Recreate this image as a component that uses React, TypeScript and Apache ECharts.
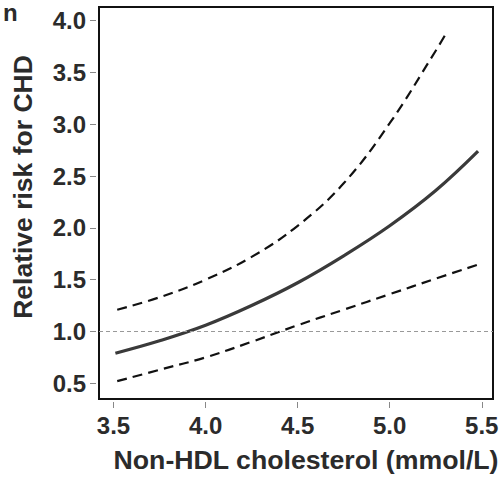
import React, { useEffect, useRef } from "react";
import * as echarts from "echarts";

const xTicks = [3.5, 4.0, 4.5, 5.0, 5.5];
const yTicks = [0.5, 1.0, 1.5, 2.0, 2.5, 3.0, 3.5, 4.0];

const xSolid = [3.51, 3.75, 4.0, 4.25, 4.5, 4.75, 5.0, 5.25, 5.48];
const rrSolid = [0.79, 0.91, 1.06, 1.25, 1.47, 1.73, 2.02, 2.36, 2.74];

const xUpper = [3.52, 3.75, 4.0, 4.25, 4.5, 4.75, 5.0, 5.25, 5.31];
const rrUpper = [1.21, 1.33, 1.5, 1.72, 2.02, 2.43, 3.01, 3.71, 3.89];

const xLower = [3.52, 3.75, 4.0, 4.25, 4.5, 4.75, 5.0, 5.25, 5.48];
const rrLower = [0.52, 0.63, 0.75, 0.9, 1.06, 1.21, 1.36, 1.51, 1.645];

const refValue = 1.0;

const xTitle = "Non-HDL cholesterol (mmol/L)";
const yTitle = "Relative risk for CHD";
const panelLabel = "n";

const FONT = "'Liberation Sans', Arial, Helvetica, sans-serif";
const TXT = "#2b2b2b";

export default function App() {
  const ref = useRef<HTMLDivElement>(null);
  useEffect(() => {
    if (!ref.current) return;
    const chart = echarts.init(ref.current, undefined, { renderer: "svg" });
    const zip = (xs: number[], ys: number[]) => xs.map((x, i) => [x, ys[i]]);
    chart.setOption({
      animation: false,
      backgroundColor: "#ffffff",
      grid: {
        left: 99,
        top: 7,
        right: 11,
        bottom: 84,
        show: true,
        borderColor: "#111",
        borderWidth: 2,
        containLabel: false,
      },
      xAxis: {
        type: "value",
        min: 3.421,
        max: 5.561,
        offset: 3,
        axisLine: { show: false },
        splitLine: { show: false },
        axisTick: {
          show: true,
          customValues: xTicks,
          length: 6,
          lineStyle: { color: "#888", width: 1 },
        },
        axisLabel: {
          customValues: xTicks,
          margin: 11,
          formatter: (v: number) => v.toFixed(1),
          fontFamily: FONT,
          fontWeight: "bold",
          fontSize: 24,
          color: TXT,
        },
      },
      yAxis: {
        type: "value",
        min: 0.348,
        max: 4.132,
        offset: 3,
        axisLine: { show: false },
        splitLine: { show: false },
        axisTick: {
          show: true,
          customValues: yTicks,
          length: 6,
          lineStyle: { color: "#888", width: 1 },
        },
        axisLabel: {
          customValues: yTicks,
          margin: 10,
          formatter: (v: number) => v.toFixed(1),
          fontFamily: FONT,
          fontWeight: "bold",
          fontSize: 24,
          color: TXT,
        },
      },
      graphic: [
        {
          type: "text",
          x: 3,
          y: 0,
          style: {
            text: panelLabel,
            fontFamily: FONT,
            fontWeight: "bold",
            fontSize: 24,
            fill: TXT,
            textAlign: "left",
            textVerticalAlign: "top",
          },
        },
        {
          type: "text",
          x: 23,
          y: 187,
          rotation: Math.PI / 2,
          style: {
            text: yTitle,
            fontFamily: FONT,
            fontWeight: "bold",
            fontSize: 26.5,
            fill: TXT,
            textAlign: "center",
            textVerticalAlign: "middle",
          },
        },
        {
          type: "text",
          x: 306,
          y: 460,
          style: {
            text: xTitle,
            fontFamily: FONT,
            fontWeight: "bold",
            fontSize: 26.7,
            fill: TXT,
            textAlign: "center",
            textVerticalAlign: "middle",
          },
        },
      ],
      series: [
        {
          type: "line",
          data: zip(xSolid, rrSolid),
          smooth: 0.4,
          symbol: "none",
          lineStyle: { color: "#3a3a3a", width: 3.2 },
          z: 3,
          markLine: {
            silent: true,
            symbol: "none",
            label: { show: false },
            lineStyle: { color: "#999", width: 1, type: [4, 3] },
            data: [{ yAxis: refValue }],
          },
        },
        {
          type: "line",
          data: zip(xUpper, rrUpper),
          smooth: 0.4,
          symbol: "none",
          lineStyle: { color: "#111", width: 2.2, type: [10, 6] },
        },
        {
          type: "line",
          data: zip(xLower, rrLower),
          smooth: 0.4,
          symbol: "none",
          lineStyle: { color: "#111", width: 2.2, type: [10, 6] },
        },
      ],
    });
    return () => chart.dispose();
  }, []);
  return (
    <div
      ref={ref}
      style={{ position: "fixed", left: 0, top: 0, width: 504, height: 483 }}
    />
  );
}
